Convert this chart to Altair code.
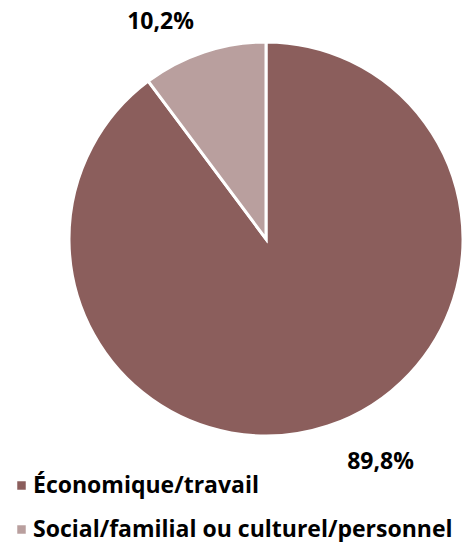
import altair as alt
import pandas as pd

categories = ["Économique/travail", "Social/familial ou culturel/personnel"]
values = [89.8, 10.2]
labels = ["89,8%", "10,2%"]
order = [0, 1]
colors = ["#8B5E5C", "#B99F9E"]

df = pd.DataFrame({"cat": categories, "val": values, "label": labels, "ord": order})

FONT = "Open Sans"
FS = 23
LFS = 23
CX, CY = 258, 231

pie = alt.Chart(df).mark_arc(radius=197, stroke="white", strokeWidth=3).encode(
    theta=alt.Theta("val:Q", stack=True),
    order=alt.Order("ord:Q"),
    x=alt.value(CX), y=alt.value(CY),
    color=alt.Color(
        "cat:N",
        scale=alt.Scale(domain=categories, range=colors),
        legend=alt.Legend(
            title=None, orient="none", legendX=2, legendY=466,
            symbolType="square", symbolSize=72, symbolStrokeWidth=0,
            labelFont=FONT, labelFontSize=LFS, labelFontWeight="bold",
            labelColor="black", rowPadding=20, labelLimit=500, labelOffset=0,
        ),
    ),
)


def label_layer(which, dx, dy):
    return alt.Chart(df).transform_stack(
        stack="val", as_=["v0", "v1"], groupby=[], sort=[alt.SortField("ord")]
    ).transform_calculate(
        mid="(datum.v0 + datum.v1) / 2"
    ).transform_filter(alt.datum.ord == which).mark_text(
        radius=246, font=FONT, fontSize=FS, fontWeight="bold", color="black", dx=dx, dy=dy
    ).encode(
        x=alt.value(CX), y=alt.value(CY),
        theta=alt.Theta("mid:Q", scale=alt.Scale(domain=[0, 100], range=[0, 6.283185307])),
        text="label:N",
    )


chart = alt.layer(pie, label_layer(0, 37, -10), label_layer(1, -28, 16)).resolve_scale(
    theta="independent"
).properties(
    width=455, height=534, padding=0,
    autosize=alt.AutoSizeParams(type="none"),
).configure_view(stroke=None)

chart.save("out.html", embed_options={"renderer": "svg", "actions": False})
